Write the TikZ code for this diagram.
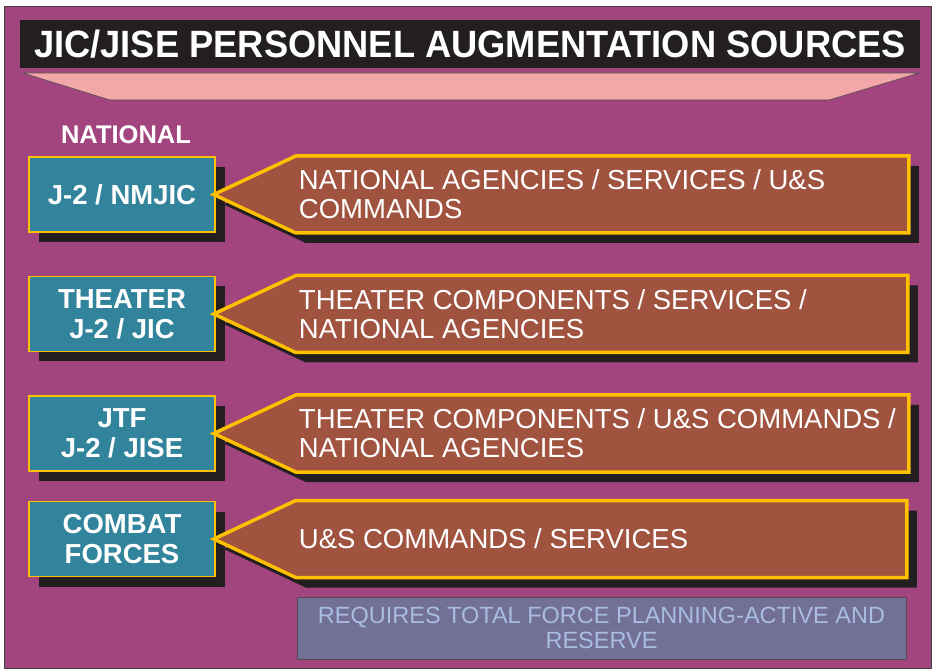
\documentclass[tikz,border=0pt]{standalone}
\usepackage{fontspec}
\setmainfont{Liberation Sans}
\newfontfamily\titlefont[FakeStretch=0.955]{Liberation Sans}
\usetikzlibrary{positioning,shadows}

\definecolor{plum}{HTML}{A2457F}
\definecolor{tealbox}{HTML}{31849B}
\definecolor{rust}{HTML}{A0533F}
\definecolor{gold}{HTML}{FFC000}
\definecolor{nearblack}{HTML}{231F20}
\definecolor{blush}{HTML}{F4A7A9}
\definecolor{slate}{HTML}{727097}
\definecolor{paleblue}{HTML}{A9BDE0}

\begin{document}
\begin{tikzpicture}[
    x=1pt,y=1pt,
    node distance=43pt and 83pt,
    dropshade/.style={drop shadow={shadow xshift=10pt,shadow yshift=-10pt,fill=nearblack,opacity=1}},
    unitbox/.style={draw=gold,line width=1.5pt,fill=tealbox,dropshade,minimum width=186pt,minimum height=75pt,
      align=center,text=white,font=\fontsize{27.5}{30}\selectfont\bfseries,inner sep=0pt},
    srcarrow/.style={draw=gold,line width=3.5pt,fill=rust,line join=miter,dropshade},
    srctext/.style={text=white,align=left,inner sep=0pt,font=\fontsize{27.5}{29}\selectfont},
    notebox/.style={draw=nearblack!80,line width=0.8pt,fill=slate,minimum width=609pt,minimum height=62pt,
      align=center,text=paleblue,font=\fontsize{23.5}{25}\selectfont,inner sep=0pt}
  ]
    \useasboundingbox (0,0) rectangle (934,670);
    \fill[white] (0,0) rectangle (934,670);
    \draw[fill=plum,draw=black!75,line width=1pt] (4,2) rectangle (931,663);

    % title
    \fill[nearblack] (20,602) rectangle (920,650);
    \node[text=white,font=\titlefont\fontsize{38}{40}\selectfont\bfseries] (title) at (470,626)
      {JIC/JISE PERSONNEL AUGMENTATION SOURCES};
    \draw[fill=blush,draw=nearblack!80,line width=0.6pt] (23,597) -- (919,597) -- (829,570) -- (110,570) -- cycle;

    \node[text=white,font=\fontsize{25.5}{28}\selectfont\bfseries] (national) at (126,535) {NATIONAL};

    % levels
    \node[unitbox] (nmjic) at (122,475.5) {J-2 / NMJIC};
    \node[unitbox,below=of nmjic] (jic) {THEATER\\J-2 / JIC};
    \node[unitbox,below=of jic] (jise) {JTF\\J-2 / JISE};
    \node[unitbox,below=29pt of jise] (combat) {COMBAT\\FORCES};

    % sources
    \draw[srcarrow] ([xshift=-2pt]nmjic.east) -- ++(82,38.5) -- ++(613,0) -- ++(0,-77) -- ++(-613,0) -- cycle;
    \draw[srcarrow] ([xshift=-2pt]jic.east) -- ++(82,38.5) -- ++(612,0) -- ++(0,-77) -- ++(-612,0) -- cycle;
    \draw[srcarrow] ([xshift=-2pt]jise.east) -- ++(82,38.5) -- ++(613,0) -- ++(0,-77) -- ++(-613,0) -- cycle;
    \draw[srcarrow] ([xshift=-2pt]combat.east) -- ++(82,38.5) -- ++(611,0) -- ++(0,-77) -- ++(-611,0) -- cycle;

    \node[srctext,right=of nmjic] (srcA) {NATIONAL AGENCIES / SERVICES / U\&S\\COMMANDS};
    \node[srctext,right=of jic] (srcB) {THEATER COMPONENTS / SERVICES /\\NATIONAL AGENCIES};
    \node[srctext,right=of jise] (srcC) {THEATER COMPONENTS / U\&S COMMANDS /\\NATIONAL AGENCIES};
    \node[srctext,right=of combat] (srcD) {U\&S COMMANDS / SERVICES};

    \node[notebox] (note) at (601.5,42) {REQUIRES TOTAL FORCE PLANNING-ACTIVE AND\\RESERVE};
  \end{tikzpicture}
\end{document}
